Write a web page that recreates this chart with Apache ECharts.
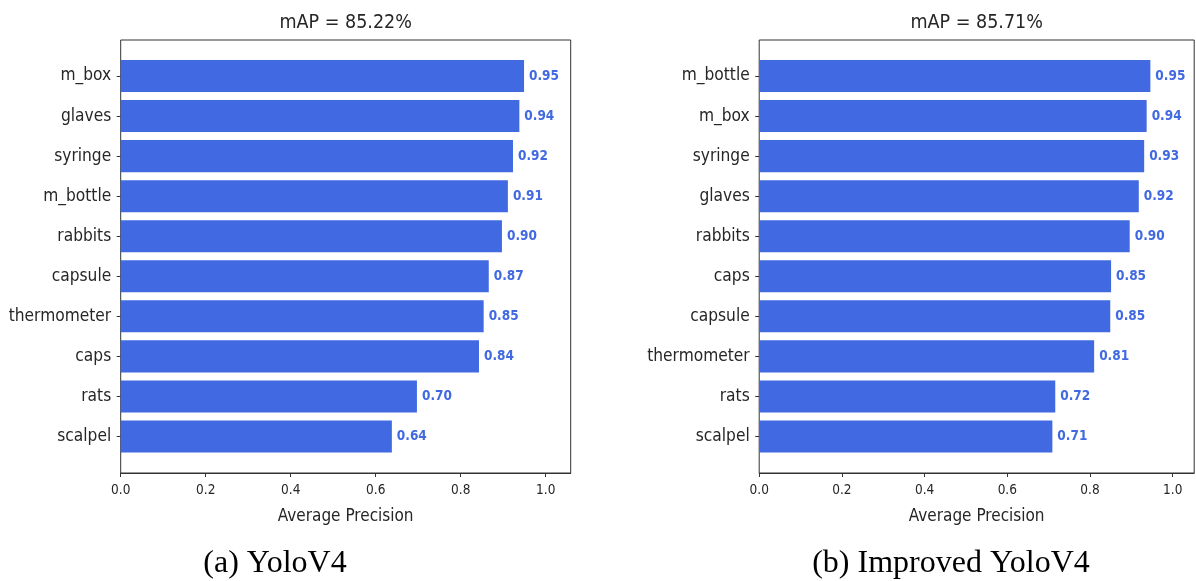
<!DOCTYPE html>
<html>
<head>
<meta charset="utf-8">
<script src="https://cdn.jsdelivr.net/npm/echarts@6/dist/echarts.min.js"></script>
<style>
html,body{margin:0;padding:0;background:#fff;}
#chart{width:1196px;height:581px;}
</style>
</head>
<body>
<div id="chart"></div>
<script>
// ---- data ----
const leftTitle = 'mAP = 85.22%';
const rightTitle = 'mAP = 85.71%';
const leftCaption = '(a) YoloV4';
const rightCaption = '(b) Improved YoloV4';
const xAxisName = 'Average Precision';

const leftCategories = ['m_box','glaves','syringe','m_bottle','rabbits','capsule','thermometer','caps','rats','scalpel'];
const leftValues = [0.949, 0.938, 0.923, 0.911, 0.897, 0.866, 0.854, 0.843, 0.697, 0.638];

const rightCategories = ['m_bottle','m_box','syringe','glaves','rabbits','caps','capsule','thermometer','rats','scalpel'];
const rightValues = [0.946, 0.937, 0.931, 0.918, 0.896, 0.851, 0.849, 0.810, 0.716, 0.709];

const xTicks = [0, 0.2, 0.4, 0.6, 0.8, 1.0];

// ---- styling / layout ----
const BAR = '#4169E1';
const TXT = '#262626';
const AX = '#333333';
const FONT = '"DejaVu Sans Condensed", "DejaVu Sans", sans-serif';
const panels = [
  {left: 120.7, width: 450, max: 1.0588, cats: leftCategories, vals: leftValues, title: leftTitle, caption: leftCaption, capX: 275},
  {left: 759.2, width: 435, max: 1.052, cats: rightCategories, vals: rightValues, title: rightTitle, caption: rightCaption, capX: 951}
];
const frameTop = 40, frameH = 433;
const barTop = 56, barH = 400.5;

const grid = [], xAxis = [], yAxis = [], series = [], graphic = [];
panels.forEach((p, i) => {
  const gFrame = i * 2, gBar = i * 2 + 1;
  grid.push({left: p.left, top: frameTop, width: p.width, height: frameH, show: true, borderColor: AX, borderWidth: 1, backgroundColor: 'transparent'});
  grid.push({left: p.left, top: barTop, width: p.width, height: barH, show: false});
  xAxis.push({
    gridIndex: gFrame, type: 'value', min: 0, max: p.max,
    axisLine: {show: true, lineStyle: {color: AX, width: 1}},
    axisTick: {show: true, inside: false, length: 4, lineStyle: {color: AX}, customValues: xTicks},
    axisLabel: {show: true, fontFamily: FONT, fontSize: 13.5, color: TXT, margin: 10,
      customValues: xTicks, formatter: v => v.toFixed(1)},
    splitLine: {show: false},
    name: xAxisName, nameLocation: 'middle', nameGap: 35,
    nameTextStyle: {fontFamily: FONT, fontSize: 17, color: TXT}
  });
  xAxis.push({gridIndex: gBar, type: 'value', min: 0, max: p.max, show: false});
  yAxis.push({gridIndex: gFrame, type: 'value', min: 0, max: 1, show: false});
  yAxis.push({
    gridIndex: gBar, type: 'category', data: p.cats, inverse: true,
    axisLine: {show: false},
    axisTick: {show: true, alignWithLabel: true, inside: false, length: 4, lineStyle: {color: AX}},
    axisLabel: {fontFamily: FONT, fontSize: 17.2, color: TXT, margin: 9.5},
    splitLine: {show: false}
  });
  series.push({
    type: 'bar', xAxisIndex: gBar, yAxisIndex: gBar, data: p.vals, barWidth: '80%',
    itemStyle: {color: BAR},
    label: {show: true, position: 'right', distance: 5, formatter: d => d.value.toFixed(2),
      fontFamily: FONT, fontWeight: 'bold', fontSize: 13.5, color: BAR},
    silent: true, animation: false
  });
  graphic.push({type: 'text', x: p.left + p.width / 2, y: 23,
    style: {text: p.title, fontFamily: FONT, fontSize: 19.5, fill: TXT, textAlign: 'center', textVerticalAlign: 'middle'}});
  graphic.push({type: 'text', x: p.capX, y: 564,
    style: {text: p.caption, fontFamily: 'Liberation Serif', fontSize: 32, fill: '#000', textAlign: 'center', textVerticalAlign: 'middle'}});
});

const chart = echarts.init(document.getElementById('chart'), null, {renderer: 'canvas'});
chart.setOption({
  backgroundColor: '#ffffff',
  animation: false,
  grid, xAxis, yAxis, series, graphic
});
</script>
</body>
</html>
